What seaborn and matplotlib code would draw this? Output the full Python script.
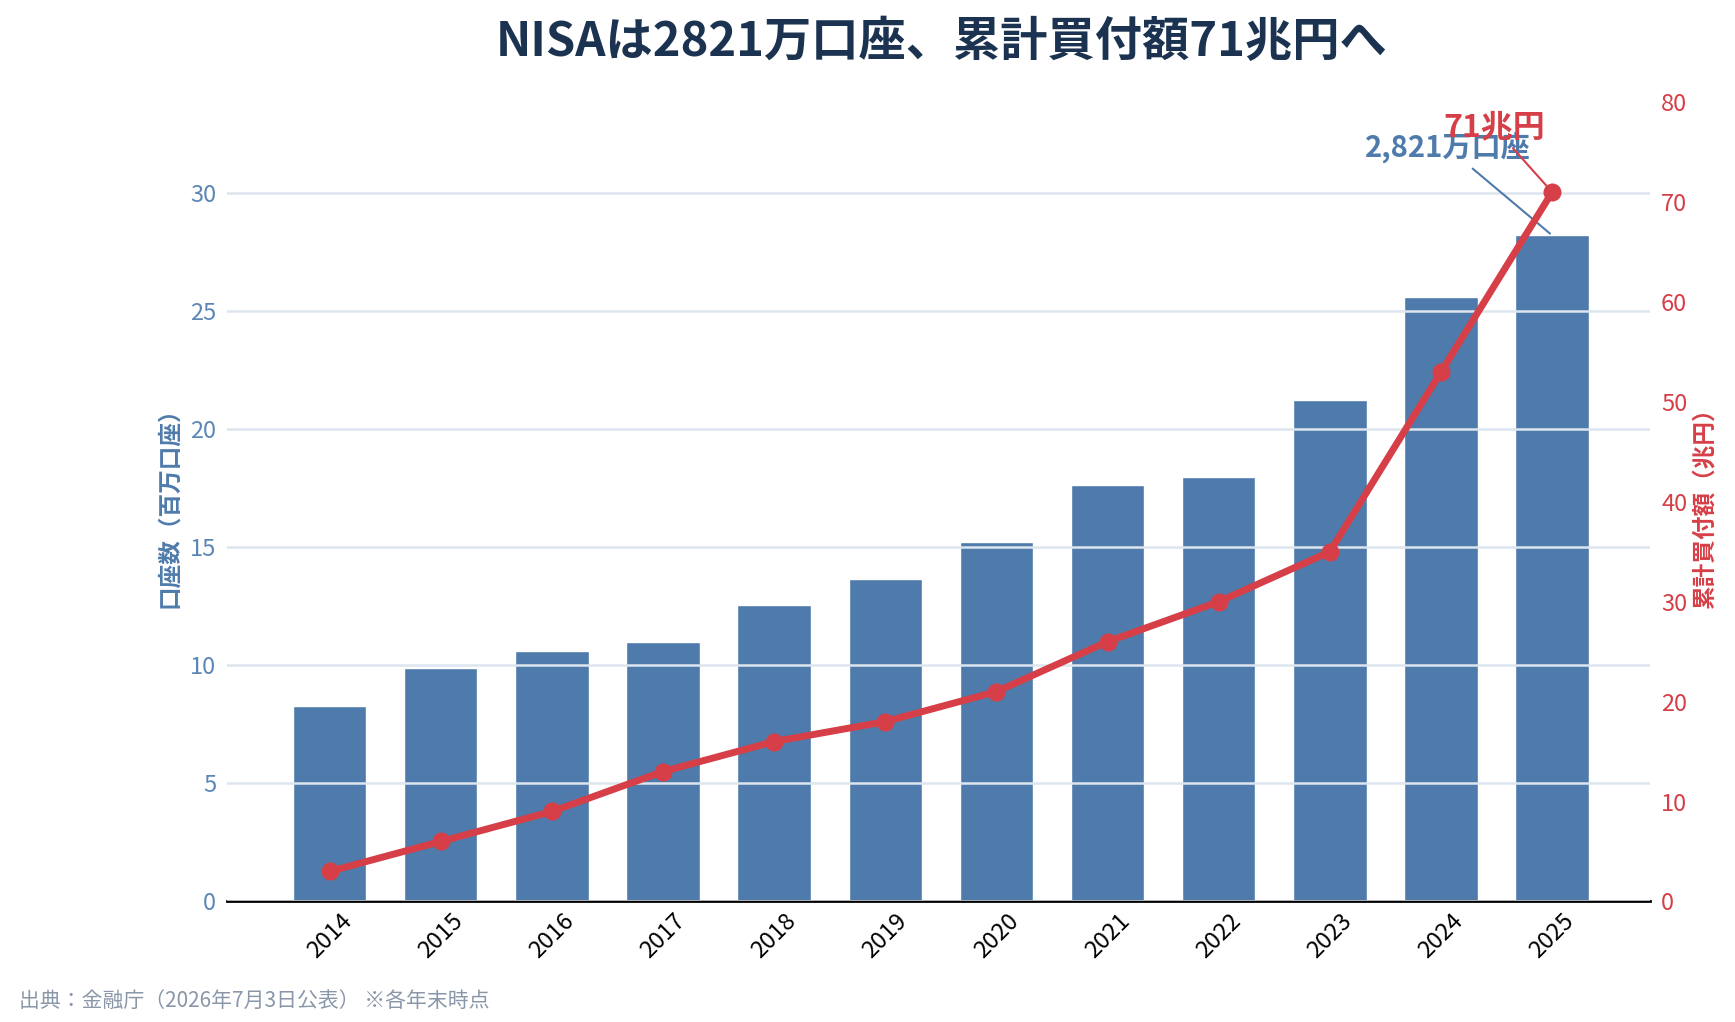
import numpy as np
import pandas as pd
import matplotlib
matplotlib.use("Agg")
import matplotlib.pyplot as plt
import seaborn as sns

years = ["2014", "2015", "2016", "2017", "2018", "2019",
         "2020", "2021", "2022", "2023", "2024", "2025"]
accounts_mil = [8.28, 9.88, 10.60, 10.98, 12.57, 13.66,
                15.24, 17.65, 17.99, 21.24, 25.60, 28.21]
amount_trillion = [3, 6, 9, 13, 16, 18, 21, 26, 30, 35, 53, 71]

title = "NISAは2821万口座、累計買付額71兆円へ"
left_label = "口座数（百万口座）"
right_label = "累計買付額（兆円）"
source = "出典：金融庁（2026年7月3日公表） ※各年末時点"
bar_note = "2,821万口座"
line_note = "71兆円"

BLUE = "#4e7bab"
BLUE_TXT = "#5b87b6"
RED = "#d63f47"
NAVY = "#1b3350"
GRID = "#dde5ee"

sns.set_theme(style="white")
plt.rcParams["font.family"] = ["Noto Sans CJK JP", "DejaVu Sans"]

df = pd.DataFrame({"year": years, "accounts": accounts_mil,
                   "amount": amount_trillion, "pos": np.arange(len(years))})

fig = plt.figure(figsize=(17.35, 10.22), dpi=100)
ax = fig.add_axes([0.131, 0.118, 0.820, 0.782])

sns.barplot(data=df, x="year", y="accounts", color=BLUE, saturation=1,
            width=0.66, ax=ax, zorder=1)
ax.set_ylim(0, max(accounts_mil) * 1.2)
ax.set_xlim(-0.92, len(years) - 1 + 0.88)
ax.set_yticks(range(0, 31, 5))
ax.yaxis.grid(True, color=GRID, linewidth=1.8, zorder=2)
ax.set_axisbelow(False)
ax.set_xlabel("")
ax.set_ylabel(left_label, color=BLUE, fontsize=17, fontweight="bold", labelpad=6)
ax.tick_params(axis="y", colors=BLUE_TXT, labelsize=17, length=0, pad=8)
ax.tick_params(axis="x", colors="black", labelsize=17, length=0, pad=6)
plt.setp(ax.get_xticklabels(), rotation=45, ha="center")
for s in ["left", "right", "top"]:
    ax.spines[s].set_visible(False)
ax.spines["bottom"].set_color("black")
ax.spines["bottom"].set_linewidth(2)

ax2 = ax.twinx()
sns.lineplot(data=df, x="pos", y="amount", color=RED, linewidth=5,
             marker="o", markersize=13, markeredgewidth=0, ax=ax2)
ax2.set_ylim(0, 80)
ax2.set_yticks(range(0, 81, 10))
ax2.set_ylabel(right_label, color=RED, fontsize=17, fontweight="bold", labelpad=4)
ax2.tick_params(axis="y", colors=RED, labelsize=17, length=0, pad=8)
ax2.grid(False)
for s in ax2.spines.values():
    s.set_visible(False)

last = len(years) - 1
ax.annotate(bar_note, xy=(last, accounts_mil[-1]), xytext=(-75, 63),
            textcoords="offset points", ha="center", va="center",
            fontsize=21, fontweight="bold", color=BLUE,
            arrowprops=dict(arrowstyle="-", color=BLUE, lw=1.5, shrinkB=2))
ax2.annotate(line_note, xy=(last, amount_trillion[-1]), xytext=(-42, 47),
             textcoords="offset points", ha="center", va="center",
             fontsize=23, fontweight="bold", color=RED,
             arrowprops=dict(arrowstyle="-", color=RED, lw=1.5, shrinkB=4))

fig.text(0.543, 0.959, title, ha="center", va="center",
         fontsize=34, fontweight="bold", color=NAVY)
fig.text(0.011, 0.021, source, ha="left", va="center", fontsize=15, color="#8a97a8")

fig.savefig("out.png", dpi=100)
